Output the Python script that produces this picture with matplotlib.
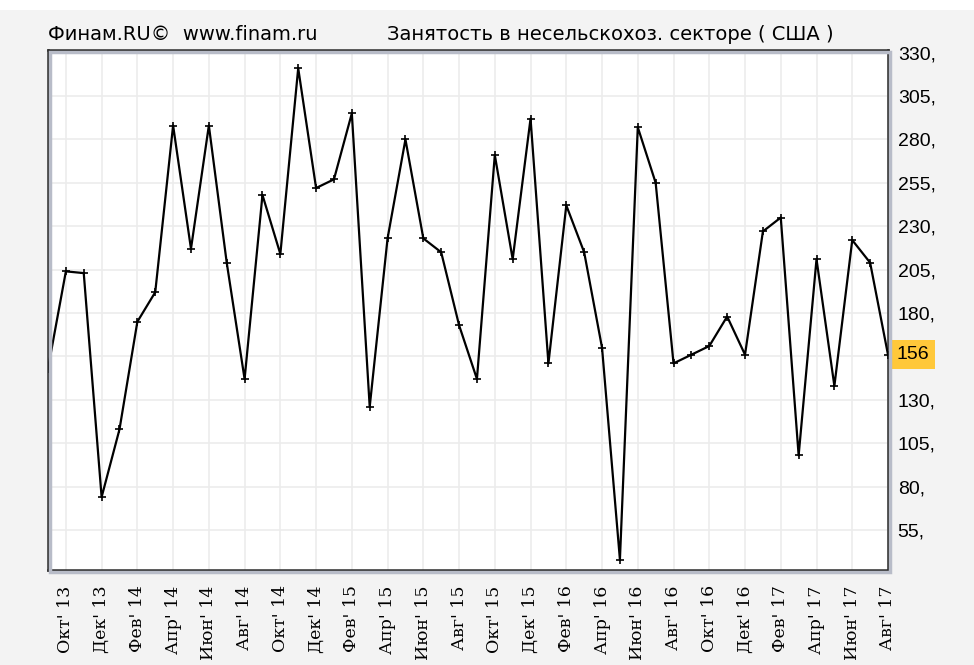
import matplotlib
matplotlib.use("Agg")
import matplotlib.pyplot as plt
from matplotlib.patches import Rectangle

# Занятость в несельскохозяйственном секторе США, тыс. (сен 2013 - авг 2017)
months = ["Сен' 13", "Окт' 13", "Ноя' 13", "Дек' 13",
          "Янв' 14", "Фев' 14", "Мар' 14", "Апр' 14", "Май' 14", "Июн' 14",
          "Июл' 14", "Авг' 14", "Сен' 14", "Окт' 14", "Ноя' 14", "Дек' 14",
          "Янв' 15", "Фев' 15", "Мар' 15", "Апр' 15", "Май' 15", "Июн' 15",
          "Июл' 15", "Авг' 15", "Сен' 15", "Окт' 15", "Ноя' 15", "Дек' 15",
          "Янв' 16", "Фев' 16", "Мар' 16", "Апр' 16", "Май' 16", "Июн' 16",
          "Июл' 16", "Авг' 16", "Сен' 16", "Окт' 16", "Ноя' 16", "Дек' 16",
          "Янв' 17", "Фев' 17", "Мар' 17", "Апр' 17", "Май' 17", "Июн' 17",
          "Июл' 17", "Авг' 17"]
values = [148, 204, 203, 74, 113, 175, 192, 288, 217, 288, 209, 142,
          248, 214, 321, 252, 257, 295, 126, 223, 280, 223, 215, 173,
          142, 271, 211, 292, 151, 242, 215, 160, 38, 287, 255, 151,
          156, 161, 178, 156, 227, 235, 98, 211, 138, 222, 209, 156]
y_ticks = [55, 80, 105, 130, 155, 180, 205, 230, 255, 280, 305, 330]

W, H = 974, 665
fig = plt.figure(figsize=(W / 100, H / 100), dpi=100, facecolor="#f3f3f3")
plt.rcParams["font.family"] = ["Liberation Sans", "DejaVu Sans"]

# белая полоса сверху
fig.patches.append(Rectangle((0, 1 - 10 / H), 1, 10 / H, transform=fig.transFigure,
                             facecolor="white", edgecolor="none", zorder=0))

left, right, top, bottom = 48, 888, 50, 570
ax = fig.add_axes([left / W, 1 - bottom / H, (right - left) / W, (bottom - top) / H])

# тень рамки
fig.patches.append(Rectangle(((left + 2) / W, 1 - (bottom + 2) / H), (right - left) / W,
                             (bottom - top) / H, transform=fig.transFigure,
                             facecolor="none", edgecolor="#b8bcc8", lw=2.5, zorder=0))

x = list(range(len(values)))
ax.plot(x, values, color="black", lw=1.6, marker="+", ms=6, mew=1.2, zorder=3)

ax.set_xlim(0, len(values) - 1)
ax.set_ylim(32, 331.5)

xt = x[1::2]
ax.set_xticks(xt)
ax.set_xticklabels([months[i] for i in xt], rotation=90, va="top", ha="center",
                   fontsize=12.5, family="DejaVu Serif")
ax.tick_params(axis="x", length=0, pad=11)

ax.yaxis.tick_right()
ax.set_yticks(y_ticks)
ax.set_yticklabels(["" if v == 155 else f"{v}," for v in y_ticks], fontsize=14)
ax.tick_params(axis="y", length=0, pad=7)

ax.grid(True, color="#ececec", lw=1.2)
ax.set_axisbelow(True)
for s in ax.spines.values():
    s.set_color("#2b2b2b")
    s.set_linewidth(1.8)

# последнее значение с подсветкой
ax.annotate(f"{values[-1]}", xy=(1, values[-1]), xycoords=("axes fraction", "data"),
            xytext=(6, 0), textcoords="offset points", va="center", ha="left",
            fontsize=14, bbox=dict(boxstyle="square,pad=0.3", fc="#ffc83a", ec="none"),
            annotation_clip=False)

fig.text(48 / W, 1 - 35 / H, "Финам.RU©  www.finam.ru", fontsize=14, va="center", ha="left",
         family="DejaVu Sans")
fig.text(387 / W, 1 - 35 / H, "Занятость в несельскохоз. секторе ( США )", fontsize=14,
         va="center", ha="left", family="DejaVu Sans")

fig.savefig("out.png", dpi=100, facecolor=fig.get_facecolor())
